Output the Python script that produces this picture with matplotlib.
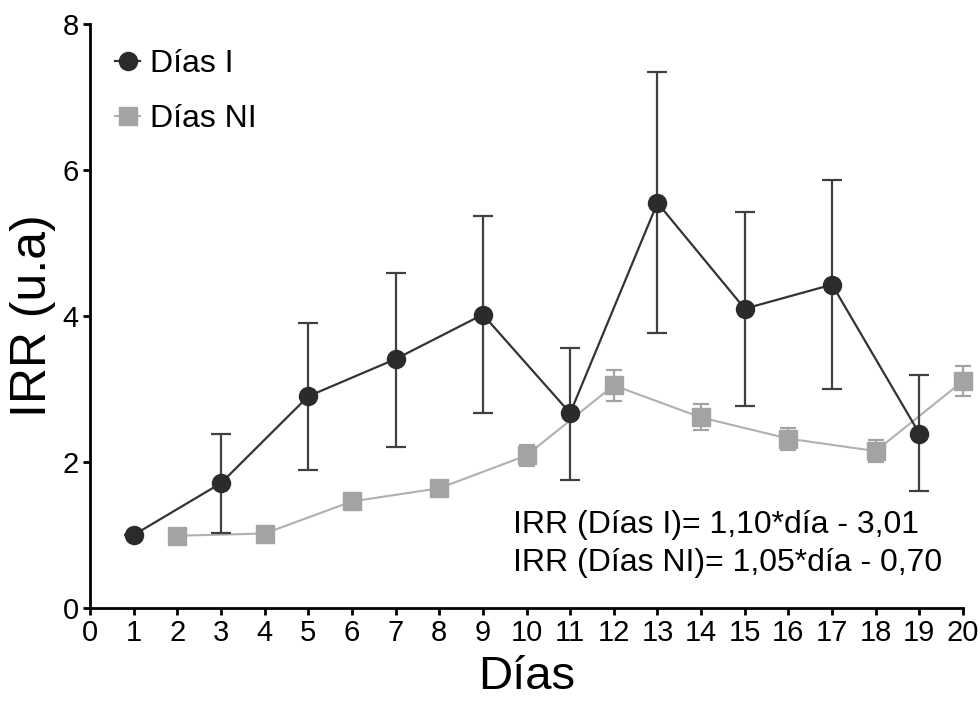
import matplotlib
matplotlib.use("Agg")
import matplotlib.pyplot as plt
from matplotlib import font_manager

# ---- data ----
days_I = [1, 3, 5, 7, 9, 11, 13, 15, 17, 19]
irr_I = [1.00, 1.71, 2.90, 3.41, 4.02, 2.67, 5.55, 4.10, 4.43, 2.39]
upper_I = [1.00, 2.38, 3.90, 4.59, 5.37, 3.56, 7.34, 5.43, 5.86, 3.19]
lower_I = [1.00, 1.03, 1.89, 2.20, 2.67, 1.75, 3.77, 2.77, 3.00, 1.60]

days_NI = [2, 4, 6, 8, 10, 12, 14, 16, 18, 20]
irr_NI = [0.99, 1.02, 1.46, 1.64, 2.09, 3.05, 2.61, 2.32, 2.15, 3.11]
upper_NI = [0.99, 1.02, 1.46, 1.64, 2.23, 3.26, 2.79, 2.47, 2.30, 3.32]
lower_NI = [0.99, 1.02, 1.46, 1.64, 1.95, 2.84, 2.44, 2.16, 2.00, 2.90]

x_ticks = list(range(0, 21))
y_ticks = [0, 2, 4, 6, 8]
labels = ["Días I", "Días NI"]
equations = ["IRR (Días I)= 1,10*día - 3,01", "IRR (Días NI)= 1,05*día - 0,70"]

names = {f.name for f in font_manager.fontManager.ttflist}
main_font = "Liberation Sans" if "Liberation Sans" in names else "DejaVu Sans"
narrow_font = "Liberation Sans Narrow" if "Liberation Sans Narrow" in names else main_font
plt.rcParams['font.family'] = [main_font, 'DejaVu Sans']

fig = plt.figure(figsize=(9.8, 7.02), dpi=100)
ax = fig.add_axes([90/980, 1-608/702, (963-90)/980, (608-24)/702])

dark = "#2b2b2b"
dark_line = "#333333"
gray = "#a3a3a3"
gray_line = "#b0b0b0"

errI = [[m - l for m, l in zip(irr_I, lower_I)], [u - m for m, u in zip(irr_I, upper_I)]]
errNI = [[m - l for m, l in zip(irr_NI, lower_NI)], [u - m for m, u in zip(irr_NI, upper_NI)]]

ax.errorbar(days_NI, irr_NI, yerr=errNI, fmt='none', ecolor=gray, elinewidth=1.6,
            capsize=6, capthick=1.6, clip_on=False, zorder=2)
ax.plot(days_NI, irr_NI, color=gray_line, lw=1.5, marker='s', ms=12.5,
        mfc=gray, mec=gray, label=labels[1], clip_on=False, zorder=3)

ax.errorbar(days_I, irr_I, yerr=errI, fmt='none', ecolor="#404040", elinewidth=1.6,
            capsize=7, capthick=1.6, clip_on=False, zorder=4)
ax.plot(days_I, irr_I, color=dark_line, lw=1.6, marker='o', ms=13,
        mfc=dark, mec=dark, label=labels[0], clip_on=False, zorder=5)

ax.set_xlim(0, 20)
ax.set_ylim(0, 8)
ax.set_xticks(x_ticks)
ax.set_yticks(y_ticks)
for s in ['top', 'right']:
    ax.spines[s].set_visible(False)
for s in ['left', 'bottom']:
    ax.spines[s].set_linewidth(2.0)
    ax.spines[s].set_color('black')
ax.tick_params(direction='out', length=5, width=2.0, pad=3)
for lab in ax.get_xticklabels() + ax.get_yticklabels():
    lab.set_fontfamily([narrow_font, main_font])
    lab.set_fontsize(21)

ax.set_xlabel("Días", fontsize=34, labelpad=6)
ax.set_ylabel("IRR (u.a)", fontsize=36, labelpad=5)

h, l = ax.get_legend_handles_labels()
order = [1, 0]
leg = ax.legend([h[i] for i in order], [l[i] for i in order], loc='upper left',
                bbox_to_anchor=(86/980, 1-20/702), bbox_transform=fig.transFigure,
                frameon=False, fontsize=23, handlelength=0.8, handletextpad=0.3,
                labelspacing=0.8)

ax.text(0.4845, 0.110, equations[0] + "\n" + equations[1], transform=ax.transAxes,
        fontsize=23, ha='left', va='center', linespacing=1.36)

fig.savefig("out.png", dpi=100)
